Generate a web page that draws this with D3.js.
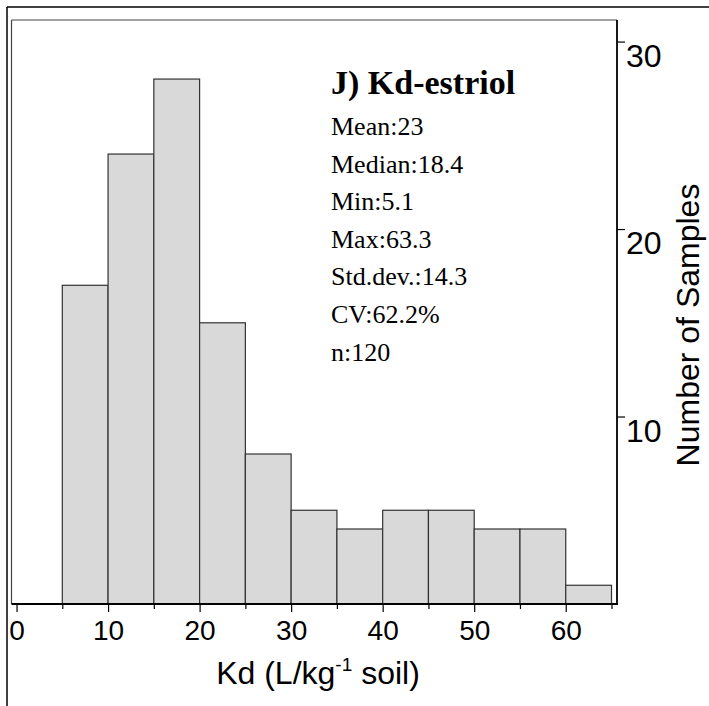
<!DOCTYPE html>
<html>
<head>
<meta charset="utf-8">
<script src="https://cdn.jsdelivr.net/npm/d3@7"></script>
<style>
html,body{margin:0;padding:0;background:#fff;}
svg{display:block;}
</style>
</head>
<body>
<script>
// Data
const binStarts = [5, 10, 15, 20, 25, 30, 35, 40, 45, 50, 55, 60];
const binWidth = 5;
const counts = [17, 24, 28, 15, 8, 5, 4, 5, 5, 4, 4, 1];
const xTickValues = [0, 10, 20, 30, 40, 50, 60];
const xMinorTickValues = [5, 15, 25, 35, 45, 55, 65];
const yTickValues = [10, 20, 30];
const statLines = ["Mean:23", "Median:18.4", "Min:5.1", "Max:63.3", "Std.dev.:14.3", "CV:62.2%", "n:120"];
const chartTitle = "J) Kd-estriol";

(function () {
const W = 709, H = 706;
const pLeft = 11.5, pRight = 617, pTop = 20, pBottom = 604;
const sans = "'Liberation Sans', Arial, sans-serif";
const serif = "'Liberation Serif', 'Times New Roman', serif";

const svg = d3.select("body").append("svg").attr("width", W).attr("height", H);

const x = d3.scaleLinear().domain([-0.55, 65.6]).range([pLeft, pRight]);
const y = d3.scaleLinear().domain([0, 31.15]).range([pBottom, pTop]);

// outer border lines
svg.append("line").attr("x1", 7).attr("x2", W).attr("y1", 7).attr("y2", 7).attr("stroke", "#000").attr("stroke-width", 1.5);
svg.append("line").attr("x1", 7).attr("x2", 7).attr("y1", 7).attr("y2", H).attr("stroke", "#000").attr("stroke-width", 1.5);

// inner frame (left/top thin)
svg.append("line").attr("x1", pLeft).attr("x2", pRight).attr("y1", pTop).attr("y2", pTop).attr("stroke", "#444").attr("stroke-width", 1.2);
svg.append("line").attr("x1", pLeft).attr("x2", pLeft).attr("y1", pTop).attr("y2", pBottom).attr("stroke", "#444").attr("stroke-width", 1.2);

// bars
svg.append("g").selectAll("rect").data(binStarts).join("rect")
  .attr("x", (d) => x(d))
  .attr("width", (d) => x(d + binWidth) - x(d))
  .attr("y", (d, i) => y(counts[i]))
  .attr("height", (d, i) => y(0) - y(counts[i]))
  .attr("fill", "#d9d9d9")
  .attr("stroke", "#333")
  .attr("stroke-width", 1.2);

// x axis
const xAxis = d3.axisBottom(x).tickValues(xTickValues).tickSize(8).tickSizeOuter(0).tickFormat(d3.format("d"));
const gx = svg.append("g").attr("transform", `translate(0,${pBottom})`).call(xAxis);
gx.select(".domain").remove();
gx.selectAll(".tick line").attr("stroke", "#000").attr("stroke-width", 1.2);
gx.selectAll(".tick text").attr("font-family", sans).attr("font-size", 28).attr("fill", "#000").attr("dy", "0.89em");
const xMinor = d3.axisBottom(x).tickValues(xMinorTickValues).tickSize(5).tickSizeOuter(0).tickFormat("");
const gxm = svg.append("g").attr("transform", `translate(0,${pBottom})`).call(xMinor);
gxm.select(".domain").remove();
gxm.selectAll(".tick line").attr("stroke", "#000").attr("stroke-width", 1.2);
svg.append("line").attr("x1", pLeft).attr("x2", pRight + 1).attr("y1", pBottom).attr("y2", pBottom).attr("stroke", "#000").attr("stroke-width", 1.8);

// y axis on right
const yAxis = d3.axisRight(y).tickValues(yTickValues).tickSize(8).tickSizeOuter(0).tickFormat(d3.format("d"));
const gy = svg.append("g").attr("transform", `translate(${pRight},0)`).call(yAxis);
gy.select(".domain").remove();
gy.selectAll(".tick line").attr("stroke", "#000").attr("stroke-width", 1.2);
gy.selectAll(".tick text").attr("font-family", sans).attr("font-size", 32).attr("fill", "#000").attr("x", 9).attr("dy", 24.5);
svg.append("line").attr("x1", pRight).attr("x2", pRight).attr("y1", pTop).attr("y2", pBottom + 1).attr("stroke", "#000").attr("stroke-width", 1.8);

// axis titles
const xt = svg.append("text").attr("x", 318).attr("y", 684).attr("text-anchor", "middle")
  .attr("font-family", sans).attr("font-size", 32).attr("fill", "#000");
xt.append("tspan").text("Kd (L/kg");
xt.append("tspan").attr("font-size", 19).attr("dy", -13).text("-1");
xt.append("tspan").attr("dy", 13).text(" soil)");

svg.append("text").attr("transform", `translate(699,${325}) rotate(-90)`).attr("text-anchor", "middle")
  .attr("font-family", sans).attr("font-size", 32).attr("fill", "#000")
  .text("Number of Samples");

// stats text
const tx = 331;
svg.append("text").attr("x", tx).attr("y", 94).attr("font-family", serif)
  .attr("font-weight", "bold").attr("font-size", 34).attr("fill", "#000").text(chartTitle);
svg.append("g").selectAll("text").data(statLines).join("text")
  .attr("x", tx).attr("y", (d, i) => 135 + i * 37.6)
  .attr("font-family", serif)
  .attr("font-size", 26).attr("fill", "#000").text((d) => d);
})();
</script>
</body>
</html>
